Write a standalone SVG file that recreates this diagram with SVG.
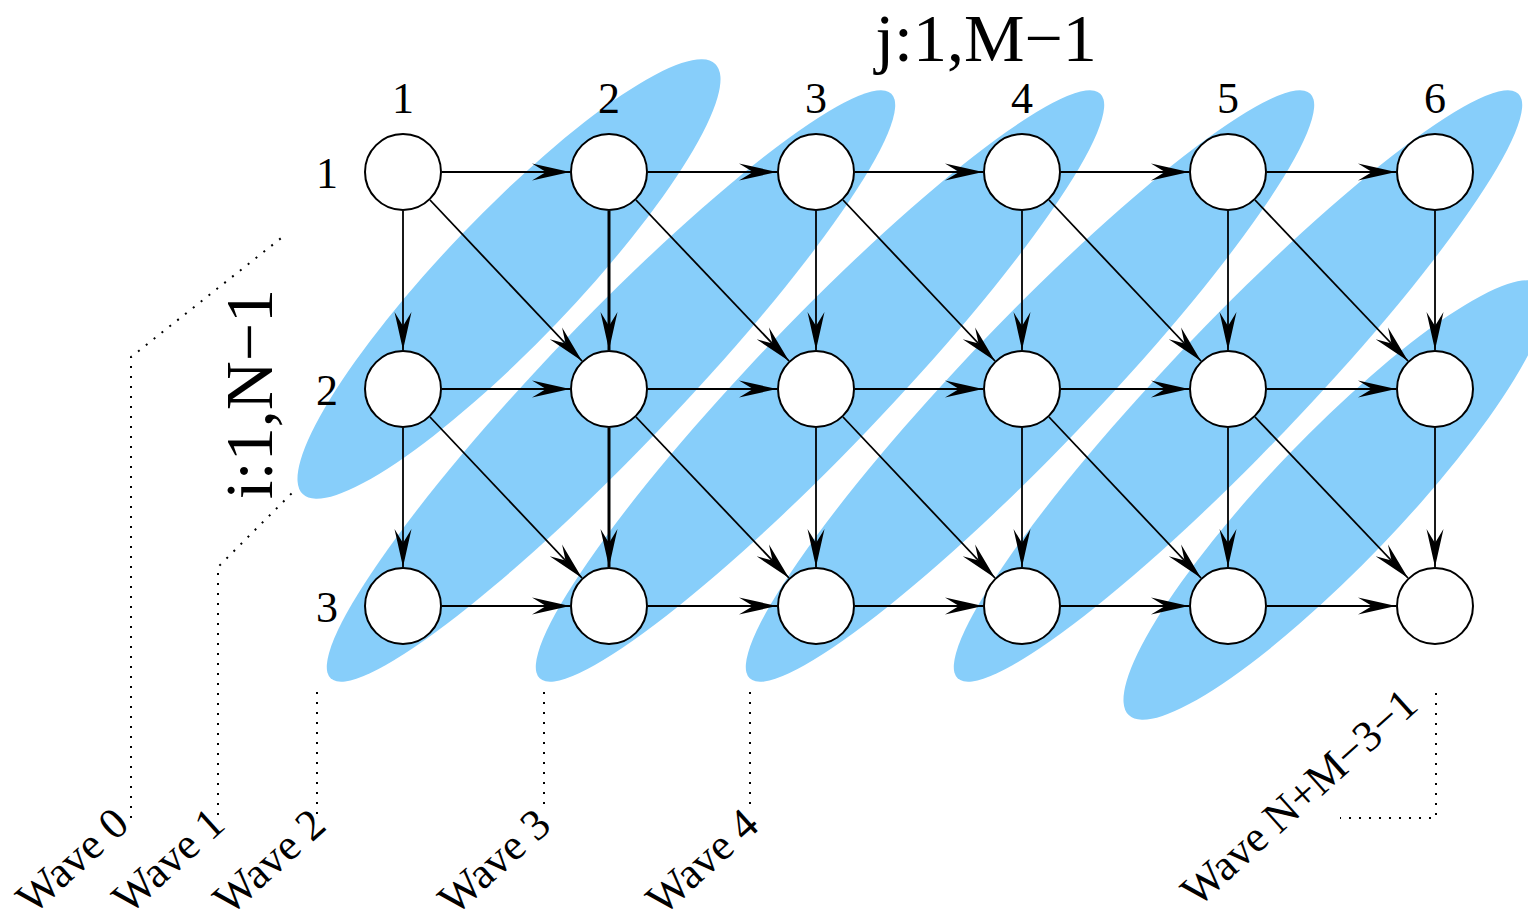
<svg xmlns="http://www.w3.org/2000/svg" width="1528" height="922" viewBox="0 0 1528 922">
<style>
.wave{fill:#87cefa;stroke:none}
.node{fill:#fff;stroke:#000;stroke-width:2}
.e{stroke:#000;stroke-width:1.8;fill:none;marker-end:url(#ah)}
.thick{stroke-width:3}
.dot{stroke:#000;stroke-width:2;fill:none;stroke-dasharray:2 8}
text{font-family:"Liberation Serif","Times New Roman",serif;fill:#000}
.lbl{font-size:44px;text-anchor:middle}
.big{font-size:68px;text-anchor:middle}
.wl{font-size:44px;text-anchor:end}
</style>
<defs>
<marker id="ah" viewBox="-40 -10 42 20" markerWidth="42" markerHeight="20" refX="0" refY="0" orient="auto" markerUnits="userSpaceOnUse">
<path d="M0,0 L-38,-8.5 L-24,0 L-38,8.5 Z" fill="#000"/>
</marker>
</defs>
<g id="waves">
<ellipse class="wave" cx="509" cy="279" rx="298" ry="65" transform="rotate(-46.2 509 279)"/>
<ellipse class="wave" cx="611" cy="386" rx="405" ry="65" transform="rotate(-46.2 611 386)"/>
<ellipse class="wave" cx="820" cy="386" rx="405" ry="65" transform="rotate(-46.2 820 386)"/>
<ellipse class="wave" cx="1030" cy="386" rx="405" ry="65" transform="rotate(-46.2 1030 386)"/>
<ellipse class="wave" cx="1238" cy="386" rx="405" ry="65" transform="rotate(-46.2 1238 386)"/>
<ellipse class="wave" cx="1335" cy="500" rx="298" ry="65" transform="rotate(-46.2 1335 500)"/>
</g>
<g id="leaders">
<polyline class="dot" points="131,818 131,357 285,235"/>
<polyline class="dot" points="218,815 218,567 295,490"/>
<line class="dot" x1="317" y1="692" x2="317" y2="818"/>
<line class="dot" x1="544" y1="692" x2="544" y2="812"/>
<line class="dot" x1="750" y1="692" x2="750" y2="812"/>
<polyline class="dot" points="1436,693 1436,818 1340,818"/>
</g>
<g id="connectors">
<line class="e" x1="442" y1="172" x2="570" y2="172"/>
<line class="e" x1="648" y1="172" x2="777" y2="172"/>
<line class="e" x1="855" y1="172" x2="983" y2="172"/>
<line class="e" x1="1061" y1="172" x2="1189" y2="172"/>
<line class="e" x1="1267" y1="172" x2="1396" y2="172"/>
<line class="e" x1="442" y1="389" x2="570" y2="389"/>
<line class="e" x1="648" y1="389" x2="777" y2="389"/>
<line class="e" x1="855" y1="389" x2="983" y2="389"/>
<line class="e" x1="1061" y1="389" x2="1189" y2="389"/>
<line class="e" x1="1267" y1="389" x2="1396" y2="389"/>
<line class="e" x1="442" y1="606" x2="570" y2="606"/>
<line class="e" x1="648" y1="606" x2="777" y2="606"/>
<line class="e" x1="855" y1="606" x2="983" y2="606"/>
<line class="e" x1="1061" y1="606" x2="1189" y2="606"/>
<line class="e" x1="1267" y1="606" x2="1396" y2="606"/>
<line class="e" x1="403" y1="211" x2="403" y2="350"/>
<line class="e thick" x1="609" y1="211" x2="609" y2="350"/>
<line class="e" x1="816" y1="211" x2="816" y2="350"/>
<line class="e" x1="1022" y1="211" x2="1022" y2="350"/>
<line class="e" x1="1228" y1="211" x2="1228" y2="350"/>
<line class="e" x1="1435" y1="211" x2="1435" y2="350"/>
<line class="e" x1="403" y1="428" x2="403" y2="567"/>
<line class="e thick" x1="609" y1="428" x2="609" y2="567"/>
<line class="e" x1="816" y1="428" x2="816" y2="567"/>
<line class="e" x1="1022" y1="428" x2="1022" y2="567"/>
<line class="e" x1="1228" y1="428" x2="1228" y2="567"/>
<line class="e" x1="1435" y1="428" x2="1435" y2="567"/>
<line class="e" x1="430" y1="200" x2="582" y2="361"/>
<line class="e" x1="636" y1="200" x2="789" y2="361"/>
<line class="e" x1="843" y1="200" x2="995" y2="361"/>
<line class="e" x1="1049" y1="200" x2="1201" y2="361"/>
<line class="e" x1="1255" y1="200" x2="1408" y2="361"/>
<line class="e" x1="430" y1="417" x2="582" y2="578"/>
<line class="e" x1="636" y1="417" x2="789" y2="578"/>
<line class="e" x1="843" y1="417" x2="995" y2="578"/>
<line class="e" x1="1049" y1="417" x2="1201" y2="578"/>
<line class="e" x1="1255" y1="417" x2="1408" y2="578"/>
</g>
<g id="n11"><circle class="node" cx="403" cy="172" r="38"/></g>
<g id="n12"><circle class="node" cx="609" cy="172" r="38"/></g>
<g id="n13"><circle class="node" cx="816" cy="172" r="38"/></g>
<g id="n14"><circle class="node" cx="1022" cy="172" r="38"/></g>
<g id="n15"><circle class="node" cx="1228" cy="172" r="38"/></g>
<g id="n16"><circle class="node" cx="1435" cy="172" r="38"/></g>
<g id="n21"><circle class="node" cx="403" cy="389" r="38"/></g>
<g id="n22"><circle class="node" cx="609" cy="389" r="38"/></g>
<g id="n23"><circle class="node" cx="816" cy="389" r="38"/></g>
<g id="n24"><circle class="node" cx="1022" cy="389" r="38"/></g>
<g id="n25"><circle class="node" cx="1228" cy="389" r="38"/></g>
<g id="n26"><circle class="node" cx="1435" cy="389" r="38"/></g>
<g id="n31"><circle class="node" cx="403" cy="606" r="38"/></g>
<g id="n32"><circle class="node" cx="609" cy="606" r="38"/></g>
<g id="n33"><circle class="node" cx="816" cy="606" r="38"/></g>
<g id="n34"><circle class="node" cx="1022" cy="606" r="38"/></g>
<g id="n35"><circle class="node" cx="1228" cy="606" r="38"/></g>
<g id="n36"><circle class="node" cx="1435" cy="606" r="38"/></g>
<g id="labels">
<text class="big" x="986" y="61">j:1,M−1</text>
<text class="big" transform="translate(272 394) rotate(-90)" x="0" y="0">i:1,N−1</text>
<text class="lbl" x="403" y="113">1</text>
<text class="lbl" x="609" y="113">2</text>
<text class="lbl" x="816" y="113">3</text>
<text class="lbl" x="1022" y="113">4</text>
<text class="lbl" x="1228" y="113">5</text>
<text class="lbl" x="1435" y="113">6</text>
<text class="lbl" x="327" y="188">1</text>
<text class="lbl" x="327" y="405">2</text>
<text class="lbl" x="327" y="622">3</text>
<text class="wl" transform="translate(131 827) rotate(-42)">Wave 0</text>
<text class="wl" transform="translate(227 827) rotate(-42)">Wave 1</text>
<text class="wl" transform="translate(328 828) rotate(-42)">Wave 2</text>
<text class="wl" transform="translate(553 828) rotate(-42)">Wave 3</text>
<text class="wl" transform="translate(761 828) rotate(-42)">Wave 4</text>
<text class="wl" transform="translate(1420 708) rotate(-42)">Wave N+M−3−1</text>
</g>
</svg>
